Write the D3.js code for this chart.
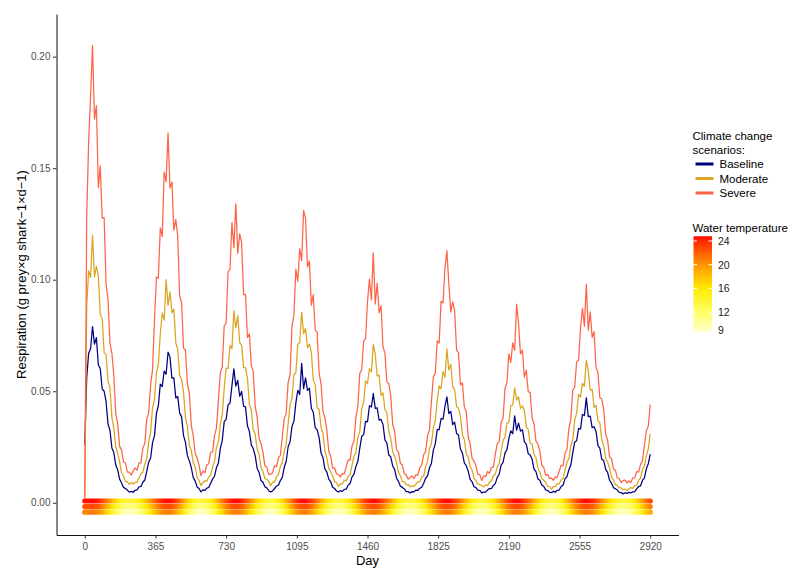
<!DOCTYPE html>
<html><head><meta charset="utf-8">
<script src="https://cdn.jsdelivr.net/npm/d3@7/dist/d3.min.js"></script>
<style>
body{margin:0;background:#fff;}
svg{display:block;font-family:"Liberation Sans",Arial,sans-serif;}
</style>
</head><body>
<svg id="chart" width="797" height="568"></svg>
<script>
// ---------------- DATA ----------------
// respiration, one value every 10 days from day 0 to day 2920
const dayStep = 10;
const resBase = [
0.026,0.056,0.067,0.069,0.079,
0.0711,0.0740,0.0619,0.0601,0.0510,0.0500,0.0453,0.0353,0.0325,0.0246,0.0225,0.0169,0.0148,0.0106,0.0089,0.0069,0.0064,0.0057,0.0048,
0.0051,0.0047,0.0056,0.0058,0.0071,0.0073,0.0092,0.0102,0.0141,0.0182,0.0201,0.0270,0.0300,0.0401,0.0435,0.0532,0.0521,0.0590,0.0576,0.0675,
0.0654,0.0559,0.0560,0.0470,0.0477,0.0402,0.0385,0.0301,0.0271,0.0211,0.0188,0.0158,0.0114,0.0098,0.0071,0.0064,0.0049,
0.0058,0.0056,0.0065,0.0069,0.0088,0.0106,0.0119,0.0158,0.0177,0.0244,0.0279,0.0364,0.0374,0.0439,0.0447,0.0525,0.0600,0.0523,
0.0549,0.0478,0.0499,0.0433,0.0430,0.0345,0.0320,0.0259,0.0243,0.0211,0.0155,0.0136,0.0100,0.0092,0.0072,0.0067,0.0054,0.0048,
0.0053,0.0064,0.0075,0.0079,0.0100,0.0114,0.0159,0.0185,0.0250,0.0273,0.0342,0.0366,0.0448,0.0504,0.0485,0.0625,0.0512,
0.0560,0.0504,0.0514,0.0424,0.0406,0.0337,0.0327,0.0293,0.0224,0.0203,0.0152,0.0138,0.0106,0.0094,0.0070,0.0064,0.0053,0.0049,
0.0054,0.0051,0.0060,0.0061,0.0079,0.0086,0.0116,0.0127,0.0163,0.0185,0.0244,0.0298,0.0305,0.0365,0.0363,0.0435,0.0429,0.0490,
0.0423,0.0425,0.0370,0.0374,0.0351,0.0282,0.0268,0.0214,0.0206,0.0165,0.0150,0.0111,0.0096,0.0074,0.0069,0.0063,0.0050,0.0050,0.0044,
0.0050,0.0049,0.0057,0.0056,0.0065,0.0070,0.0088,0.0110,0.0121,0.0157,0.0176,0.0236,0.0264,0.0328,0.0328,0.0377,0.0375,0.0432,0.0475,
0.0400,0.0410,0.0350,0.0361,0.0311,0.0304,0.0241,0.0223,0.0179,0.0166,0.0142,0.0105,0.0094,0.0072,0.0068,0.0057,0.0056,0.0044,
0.0048,0.0048,0.0057,0.0064,0.0064,0.0078,0.0086,0.0114,0.0128,0.0169,0.0181,0.0224,0.0238,0.0288,0.0322,0.0310,0.0390,0.0326,
0.0357,0.0321,0.0328,0.0273,0.0263,0.0220,0.0214,0.0195,0.0151,0.0140,0.0107,0.0101,0.0080,0.0074,0.0058,0.0055,0.0047,0.0046,
0.0051,0.0048,0.0056,0.0057,0.0073,0.0080,0.0107,0.0117,0.0148,0.0169,0.0224,0.0272,0.0278,0.0333,0.0330,0.0396,0.0391,0.0470,
0.0386,0.0388,0.0337,0.0341,0.0320,0.0257,0.0244,0.0195,0.0188,0.0150,0.0136,0.0101,0.0088,0.0068,0.0063,0.0057,0.0047,0.0046,0.0040,
0.0045,0.0042,0.0047,0.0044,0.0049,0.0050,0.0062,0.0073,0.0076,0.0100,0.0112,0.0152,0.0175,0.0218
];
const resMod = [
0.003,0.088,0.104,0.101,0.120,
0.1013,0.1060,0.1018,0.0843,0.0826,0.0673,0.0665,0.0547,0.0515,0.0384,0.0332,0.0249,0.0221,0.0183,0.0134,0.0120,0.0095,0.0095,0.0083,
0.0091,0.0084,0.0092,0.0092,0.0112,0.0130,0.0137,0.0173,0.0197,0.0272,0.0316,0.0426,0.0463,0.0581,0.0620,0.0758,0.0851,0.0819,0.1000,0.0885,
0.0946,0.0852,0.0868,0.0718,0.0687,0.0572,0.0552,0.0496,0.0380,0.0343,0.0258,0.0235,0.0180,0.0161,0.0115,0.0100,0.0077,
0.0090,0.0099,0.0097,0.0116,0.0123,0.0160,0.0186,0.0249,0.0272,0.0351,0.0395,0.0513,0.0604,0.0603,0.0706,0.0691,0.0860,0.0784,
0.0838,0.0718,0.0706,0.0606,0.0606,0.0558,0.0442,0.0416,0.0326,0.0308,0.0241,0.0216,0.0159,0.0139,0.0109,0.0105,0.0096,0.0076,
0.0093,0.0093,0.0116,0.0127,0.0162,0.0180,0.0231,0.0262,0.0353,0.0439,0.0467,0.0574,0.0583,0.0711,0.0718,0.0855,0.0758,
0.0782,0.0695,0.0711,0.0675,0.0551,0.0529,0.0427,0.0418,0.0338,0.0312,0.0232,0.0201,0.0153,0.0139,0.0121,0.0094,0.0091,0.0073,
0.0085,0.0084,0.0101,0.0099,0.0118,0.0126,0.0167,0.0208,0.0223,0.0292,0.0318,0.0420,0.0451,0.0546,0.0534,0.0601,0.0586,0.0710,
0.0665,0.0569,0.0572,0.0482,0.0492,0.0417,0.0403,0.0319,0.0289,0.0229,0.0210,0.0180,0.0135,0.0121,0.0095,0.0095,0.0080,0.0082,0.0071,
0.0076,0.0073,0.0084,0.0094,0.0094,0.0114,0.0120,0.0162,0.0185,0.0243,0.0265,0.0334,0.0368,0.0458,0.0524,0.0511,0.0588,0.0562,0.0690,
0.0595,0.0621,0.0521,0.0507,0.0431,0.0424,0.0387,0.0305,0.0284,0.0219,0.0206,0.0162,0.0148,0.0111,0.0100,0.0083,0.0082,0.0076,
0.0071,0.0080,0.0077,0.0094,0.0098,0.0121,0.0128,0.0160,0.0175,0.0230,0.0280,0.0294,0.0357,0.0359,0.0436,0.0438,0.0515,0.0461,
0.0475,0.0423,0.0435,0.0414,0.0340,0.0329,0.0267,0.0264,0.0217,0.0203,0.0155,0.0137,0.0109,0.0102,0.0092,0.0074,0.0073,0.0061,
0.0073,0.0073,0.0086,0.0085,0.0102,0.0109,0.0146,0.0182,0.0197,0.0257,0.0282,0.0372,0.0401,0.0486,0.0474,0.0535,0.0522,0.0640,
0.0591,0.0506,0.0509,0.0428,0.0437,0.0368,0.0356,0.0280,0.0254,0.0200,0.0182,0.0156,0.0115,0.0103,0.0080,0.0078,0.0067,0.0067,0.0058,
0.0061,0.0056,0.0063,0.0068,0.0065,0.0077,0.0078,0.0101,0.0111,0.0150,0.0164,0.0210,0.0241,0.0310
];
const resSev = [
0.001,0.128,0.162,0.182,0.205,
0.1720,0.1780,0.1412,0.1510,0.1276,0.1278,0.0979,0.0914,0.0716,0.0670,0.0571,0.0398,0.0355,0.0253,0.0237,0.0184,0.0178,0.0137,0.0137,
0.0124,0.0143,0.0156,0.0146,0.0179,0.0179,0.0244,0.0267,0.0374,0.0404,0.0530,0.0597,0.0817,0.1011,0.1007,0.1232,0.1193,0.1482,0.1440,0.1658,
0.1411,0.1438,0.1222,0.1269,0.1197,0.0928,0.0897,0.0693,0.0685,0.0533,0.0491,0.0347,0.0301,0.0222,0.0201,0.0170,0.0122,
0.0142,0.0134,0.0169,0.0175,0.0227,0.0228,0.0301,0.0335,0.0458,0.0583,0.0610,0.0794,0.0804,0.1036,0.1046,0.1256,0.1144,0.1340,
0.1119,0.1205,0.1167,0.0933,0.0934,0.0741,0.0757,0.0615,0.0590,0.0433,0.0384,0.0288,0.0266,0.0227,0.0166,0.0160,0.0126,0.0128,
0.0134,0.0166,0.0162,0.0201,0.0213,0.0296,0.0377,0.0399,0.0539,0.0575,0.0792,0.0840,0.1047,0.0993,0.1138,0.1085,0.1310,
0.1277,0.1057,0.1084,0.0886,0.0933,0.0773,0.0765,0.0582,0.0533,0.0409,0.0382,0.0326,0.0231,0.0209,0.0155,0.0157,0.0129,0.0127,
0.0116,0.0131,0.0130,0.0162,0.0192,0.0191,0.0255,0.0275,0.0383,0.0431,0.0579,0.0596,0.0726,0.0735,0.0901,0.1003,0.0910,0.1120,
0.0891,0.0985,0.0852,0.0883,0.0699,0.0671,0.0540,0.0535,0.0479,0.0352,0.0323,0.0237,0.0228,0.0176,0.0169,0.0130,0.0125,0.0105,0.0114,
0.0121,0.0108,0.0126,0.0123,0.0158,0.0168,0.0216,0.0229,0.0299,0.0328,0.0453,0.0565,0.0580,0.0726,0.0716,0.0903,0.0896,0.1052,0.1130,
0.0983,0.0855,0.0901,0.0863,0.0683,0.0673,0.0528,0.0537,0.0429,0.0408,0.0296,0.0263,0.0199,0.0187,0.0166,0.0127,0.0126,0.0100,
0.0121,0.0117,0.0140,0.0132,0.0158,0.0161,0.0216,0.0266,0.0273,0.0360,0.0378,0.0512,0.0538,0.0667,0.0629,0.0717,0.0683,0.0890,
0.0803,0.0667,0.0685,0.0563,0.0595,0.0497,0.0495,0.0380,0.0354,0.0276,0.0263,0.0231,0.0169,0.0159,0.0123,0.0128,0.0109,0.0111,
0.0101,0.0115,0.0114,0.0142,0.0168,0.0167,0.0223,0.0239,0.0333,0.0376,0.0505,0.0519,0.0632,0.0639,0.0784,0.0872,0.0792,0.0980,
0.0774,0.0856,0.0742,0.0767,0.0608,0.0583,0.0470,0.0465,0.0416,0.0307,0.0280,0.0206,0.0198,0.0153,0.0146,0.0112,0.0108,0.0091,0.0099,
0.0102,0.0089,0.0098,0.0091,0.0112,0.0113,0.0140,0.0138,0.0171,0.0189,0.0259,0.0324,0.0343,0.0440
];

// water temperature (°C), one value every 20 days from day 0 to day 2920
const tempStep = 20;
const tempBase = [
20.6,20.9,21.0,20.7,19.7,18.3,16.5,14.5,12.6,10.9,9.7,9.1,
9.1,9.6,10.8,12.3,14.1,15.9,17.7,19.2,20.4,20.9,
20.9,20.1,18.6,16.6,14.4,12.3,10.6,9.4,8.8,
9.4,10.4,12.0,14.0,16.0,18.0,19.6,20.6,21.0,
20.6,19.6,18.0,16.0,14.0,12.0,10.4,9.4,8.7,
9.4,10.6,12.3,14.4,16.6,18.6,20.1,20.9,
20.9,20.2,18.9,17.1,15.0,12.9,11.1,9.8,9.1,
9.1,9.8,11.1,12.9,15.0,17.1,18.9,20.2,20.9,
20.9,20.3,19.1,17.4,15.5,13.5,11.7,10.3,9.3,9.0,
9.3,10.3,11.7,13.5,15.5,17.4,19.1,20.3,20.9,
20.9,20.2,18.9,17.1,15.0,12.9,11.1,9.8,9.1,
9.1,9.8,11.1,12.9,15.0,17.1,18.9,20.2,20.9,
20.9,20.2,18.9,17.1,15.0,12.9,11.1,9.8,9.1,
9.1,9.8,11.1,12.9,15.0,17.1,18.9,20.2,20.9,
20.9,20.3,19.1,17.4,15.5,13.5,11.7,10.3,9.3,9.0,
9.3,10.3,11.7,13.5,15.5,17.4,19.1
];
const tempMod = [
22.5,22.7,22.8,22.5,21.6,20.2,18.4,16.5,14.7,13.1,11.9,11.3,
11.3,11.8,12.9,14.4,16.1,17.9,19.6,21.1,22.2,22.7,
22.7,21.9,20.5,18.6,16.5,14.4,12.7,11.6,11.2,
11.5,12.6,14.1,16.0,18.0,19.9,21.4,22.5,22.8,
22.5,21.4,19.9,18.0,16.0,14.1,12.6,11.5,11.2,
11.6,12.7,14.4,16.5,18.6,20.5,21.9,22.7,
22.7,22.0,20.7,19.0,17.0,15.0,13.3,12.0,11.3,
11.3,12.0,13.3,15.0,17.0,19.0,20.7,22.0,22.7,
22.7,22.1,20.9,19.3,17.5,15.6,13.8,12.4,11.5,11.2,
11.5,12.4,13.8,15.6,17.5,19.3,20.9,22.1,22.7,
22.7,22.0,20.7,19.0,17.0,15.0,13.3,12.0,11.3,
11.3,12.0,13.3,15.0,17.0,19.0,20.7,22.0,22.7,
22.7,22.0,20.7,19.0,17.0,15.0,13.3,12.0,11.3,
11.3,12.0,13.3,15.0,17.0,19.0,20.7,22.0,22.7,
22.7,22.1,20.9,19.3,17.5,15.6,13.8,12.4,11.5,11.2,
11.5,12.4,13.8,15.6,17.5,19.3,20.9
];
const tempSev = [
24.5,24.7,24.8,24.5,23.6,22.3,20.6,18.7,17.0,15.4,14.3,13.7,
13.7,14.2,15.2,16.7,18.3,20.1,21.7,23.2,24.2,24.7,
24.7,24.0,22.6,20.7,18.7,16.7,15.1,14.0,13.6,
13.9,14.9,16.4,18.2,20.2,22.0,23.5,24.5,24.8,
24.5,23.5,22.0,20.2,18.2,16.4,14.9,13.9,13.6,
14.0,15.1,16.7,18.7,20.7,22.6,24.0,24.7,
24.7,24.0,22.8,21.1,19.2,17.3,15.6,14.4,13.7,
13.7,14.4,15.6,17.3,19.2,21.1,22.8,24.0,24.7,
24.7,24.1,23.0,21.4,19.7,17.8,16.1,14.8,13.9,13.6,
13.9,14.8,16.1,17.8,19.7,21.4,23.0,24.1,24.7,
24.7,24.0,22.8,21.1,19.2,17.3,15.6,14.4,13.7,
13.7,14.4,15.6,17.3,19.2,21.1,22.8,24.0,24.7,
24.7,24.0,22.8,21.1,19.2,17.3,15.6,14.4,13.7,
13.7,14.4,15.6,17.3,19.2,21.1,22.8,24.0,24.7,
24.7,24.1,23.0,21.4,19.7,17.8,16.1,14.8,13.9,13.6,
13.9,14.8,16.1,17.8,19.7,21.4,23.0
];

const scenarios = ["Baseline", "Moderate", "Severe"];
const stripLevels = [0.0008, -0.0017, -0.0042];   // rows: Severe, Moderate, Baseline temperature
const xTicks = [0, 365, 730, 1095, 1460, 1825, 2190, 2555, 2920];
const yTicks = [0, 0.05, 0.10, 0.15, 0.20];
const tempTicks = [9, 12, 16, 20, 24];

// ---------------- STYLE ----------------
const scenarioColors = ["#000080", "#DAA520", "#FF6347"];
const tempColorStops = [8.6, 12, 16, 20, 24, 25];
const tempColorRange = ["#FFFFCC", "#FFFF66", "#FFEA00", "#FF9600", "#FF2800", "#FF0000"];
const FONT = '"Liberation Sans", Arial, sans-serif';

// ---------------- CHART ----------------
const svg = d3.select("#chart");
const defs = svg.append("defs");
const x = d3.scaleLinear().domain([-146, 3066]).range([56.5, 678.5]);
const y = d3.scaleLinear().domain([-0.01444, 0.2191]).range([535, 14]);
const color = d3.scaleLinear().domain(tempColorStops).range(tempColorRange).clamp(true);

// respiration lines
[resBase, resMod, resSev].forEach((vals, k) => {
  svg.append("path").datum(vals)
    .attr("fill", "none")
    .attr("stroke", scenarioColors[k])
    .attr("stroke-width", 1.25)
    .attr("stroke-linejoin", "round")
    .attr("d", d3.line().x((d, i) => x(i * dayStep)).y(d => y(d)));
});

// temperature strips
[tempSev, tempMod, tempBase].forEach((tv, k) => {
  const last = (tv.length - 1) * tempStep;
  const g = defs.append("linearGradient").attr("id", "tg" + k)
    .attr("gradientUnits", "userSpaceOnUse")
    .attr("x1", x(0)).attr("x2", x(last)).attr("y1", 0).attr("y2", 0);
  tv.forEach((t, j) => g.append("stop").attr("offset", (j * tempStep) / last).attr("stop-color", color(t)));
  svg.append("line")
    .attr("x1", x(0)).attr("x2", x(last))
    .attr("y1", y(stripLevels[k])).attr("y2", y(stripLevels[k]))
    .attr("stroke", "url(#tg" + k + ")")
    .attr("stroke-width", 5.2)
    .attr("stroke-linecap", "round");
});

// axes
const yAxis = svg.append("g").attr("transform", "translate(56.5,0)")
  .call(d3.axisLeft(y).tickValues(yTicks).tickFormat(d3.format(".2f")).tickSize(3.5).tickSizeOuter(0).tickPadding(2.5));
const xAxis = svg.append("g").attr("transform", "translate(0,535)")
  .call(d3.axisBottom(x).tickValues(xTicks).tickFormat(d3.format("d")).tickSize(3.5).tickSizeOuter(0).tickPadding(4));
[yAxis, xAxis].forEach(a => {
  a.attr("font-family", FONT).attr("font-size", 10);
  a.select(".domain").attr("stroke", "#111").attr("stroke-width", 1);
  a.selectAll(".tick line").attr("stroke", "#333").attr("stroke-width", 1);
  a.selectAll(".tick text").attr("fill", "#4D4D4D");
});

// axis titles
svg.append("text").attr("x", 367.5).attr("y", 565).attr("text-anchor", "middle")
  .attr("font-size", 13).attr("fill", "#000").text("Day");
svg.append("text").attr("transform", "translate(25.5,274.5) rotate(-90)").attr("text-anchor", "middle")
  .attr("font-size", 13).attr("fill", "#000").text("Respiration (g prey\u00D7g shark\u22121\u00D7d\u22121)");

// legend: scenarios
const leg = svg.append("g").attr("font-size", 11.5).attr("fill", "#000");
leg.append("text").attr("x", 692.5).attr("y", 139.5).text("Climate change");
leg.append("text").attr("x", 692.5).attr("y", 153.5).text("scenarios:");
const keyY = [164, 178.5, 193];
scenarios.forEach((s, k) => {
  leg.append("line").attr("x1", 695.5).attr("x2", 713.5).attr("y1", keyY[k]).attr("y2", keyY[k])
    .attr("stroke", scenarioColors[k]).attr("stroke-width", 3);
  leg.append("text").attr("x", 719.5).attr("y", keyY[k] + 4).text(s);
});

// legend: water temperature colourbar
leg.append("text").attr("x", 692.5).attr("y", 231.5).text("Water temperature");
const allT = tempBase.concat(tempMod, tempSev);
const tMin = d3.min(allT), tMax = d3.max(allT);
const ly = d3.scaleLinear().domain([9, 24]).range([330, 241]);
const cg = defs.append("linearGradient").attr("id", "cbar").attr("x1", 0).attr("x2", 0).attr("y1", 0).attr("y2", 1);
d3.range(0, 1.0001, 0.05).forEach(o => cg.append("stop").attr("offset", o).attr("stop-color", color(tMax - o * (tMax - tMin))));
const barX = 693.5, barW = 18.5;
leg.append("rect").attr("x", barX).attr("y", ly(tMax)).attr("width", barW).attr("height", ly(tMin) - ly(tMax))
  .attr("fill", "url(#cbar)");
tempTicks.forEach(t => {
  leg.append("line").attr("x1", barX).attr("x2", barX + 3.5).attr("y1", ly(t)).attr("y2", ly(t)).attr("stroke", "#fff").attr("stroke-width", 1);
  leg.append("line").attr("x1", barX + barW - 3.5).attr("x2", barX + barW).attr("y1", ly(t)).attr("y2", ly(t)).attr("stroke", "#fff").attr("stroke-width", 1);
  leg.append("text").attr("x", 718).attr("y", ly(t) + 3.8).attr("font-size", 10.5).attr("fill", "#222").text(t);
});
</script>
</body></html>
